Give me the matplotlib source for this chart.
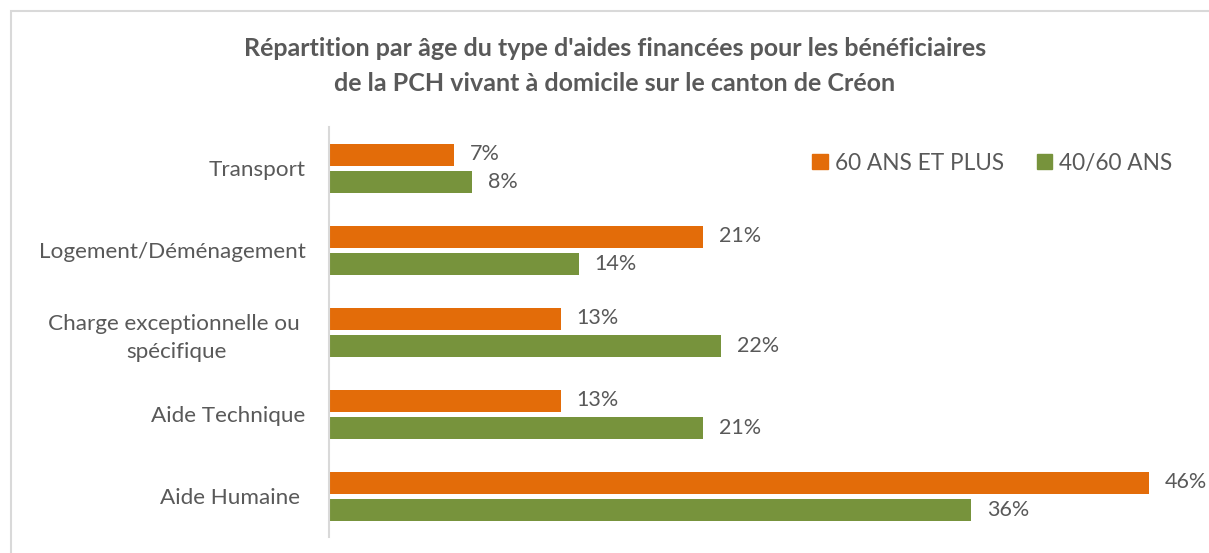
import matplotlib
matplotlib.use("Agg")
import matplotlib.pyplot as plt
from matplotlib.patches import Rectangle, Patch

categories = ["Transport", "Logement/Déménagement", "Charge exceptionnelle ou \nspécifique",
              "Aide Technique", "Aide Humaine "]
series_names = ["60 ANS ET PLUS", "40/60 ANS"]
values_60plus = [7, 21, 13, 13, 46]
values_40_60 = [8, 14, 22, 21, 36]
title = "Répartition par âge du type d'aides financées pour les bénéficiaires\nde la PCH vivant à domicile sur le canton de Créon"

orange = "#E36C09"
green = "#77933C"
txt = "#595959"

plt.rcParams['font.family'] = ['Lato', 'DejaVu Sans']

W, H = 1209, 553
fig = plt.figure(figsize=(W / 100, H / 100), dpi=100)
fig.patches.append(Rectangle((11 / W, -0.1), 1.2, (H - 11) / H + 0.1, transform=fig.transFigure,
                             fill=False, edgecolor="#D9D9D9", linewidth=1.5))

ax_left, ax_right = 329, 1200
ax_top, ax_bot = 127, 537
ax = fig.add_axes([ax_left / W, 1 - ax_bot / H, (ax_right - ax_left) / W, (ax_bot - ax_top) / H])

n = len(categories)
pos = list(range(n))
bh = 22 / 82
gap = 5 / 82
y_or = [p - (bh + gap) / 2 for p in pos]
y_gr = [p + (bh + gap) / 2 for p in pos]
ax.barh(y_or, values_60plus, height=bh, color=orange, label=series_names[0])
ax.barh(y_gr, values_40_60, height=bh, color=green, label=series_names[1])

px_per = (1149 - 329) / 46
ax.set_xlim(0, (ax_right - ax_left) / px_per)
ax.set_ylim(n - 0.5, -0.5)

for y, v in zip(y_or, values_60plus):
    ax.annotate(f"{v}%", (v, y), xytext=(16, 0), textcoords="offset pixels",
                va="center", ha="left", fontsize=15.5, color=txt)
for y, v in zip(y_gr, values_40_60):
    ax.annotate(f"{v}%", (v, y), xytext=(16, 0), textcoords="offset pixels",
                va="center", ha="left", fontsize=15.5, color=txt)

ax.set_yticks(pos)
labels = ax.set_yticklabels(categories, fontsize=16.2, color=txt, linespacing=1.5, ha="right")
for lab in labels:
    lab.set_multialignment("center")
ax.tick_params(axis="y", length=0, pad=17)
ax.set_xticks([])
for s in ["top", "right", "bottom"]:
    ax.spines[s].set_visible(False)
ax.spines["left"].set_color("#D9D9D9")
ax.spines["left"].set_linewidth(1.5)

fig.text(615 / W, 1 - 66 / H, title, ha="center", va="center", fontsize=18, fontweight="bold",
         color=txt, linespacing=1.58)

handles = [Patch(color=orange), Patch(color=green)]
fig.legend(handles, series_names, loc="center left", bbox_to_anchor=(792 / W, 1 - 163 / H),
           ncol=2, frameon=False, fontsize=16.3, labelcolor=txt, handlelength=0.68, handleheight=0.68,
           handletextpad=0.31, columnspacing=1.46)

fig.savefig("out.png", dpi=100, facecolor="white")
